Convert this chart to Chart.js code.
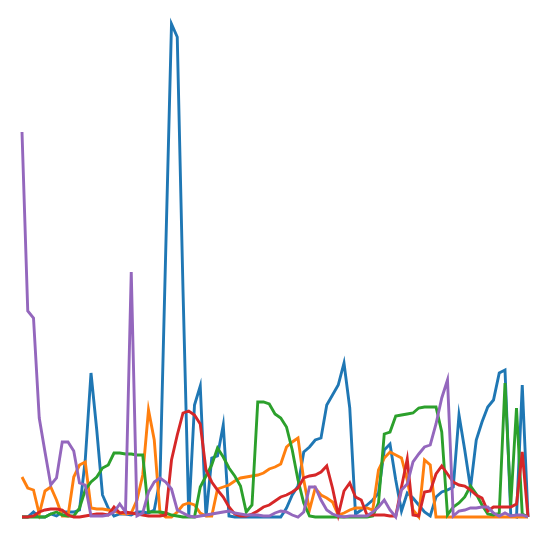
<!DOCTYPE html>
<html>
<head>
  <meta charset="utf-8">
  <script src="https://cdn.jsdelivr.net/npm/chart.js"></script>
  <style>
    html, body { margin: 0; padding: 0; background: white; }
    #wrap { width: 553px; height: 539px; }
  </style>
</head>
<body>
  <div id="wrap"><canvas id="chart" width="553" height="539"></canvas></div>
  <script>
    // 89 samples, no axes shown in the original
    const steps = Array.from({ length: 89 }, (_, i) => i);

    const blue = [1,1,6,1,1,4,2,6,6,6,8,58,145,88,23,10,2,4,4,3,6,6,5,8,38,268,494,481,228,2,
      113,132,1,60,62,93,2,1,1,1,1,1,1,1,1,1,10,23,32,66,71,78,80,113,123,133,155,110,4,8,
      13,18,25,68,74,38,7,25,20,13,6,2,21,26,28,31,103,68,30,78,96,111,118,145,148,3,1,133,1];
    const orange = [41,30,28,4,27,31,18,2,2,41,53,56,10,9,9,8,7,5,4,5,18,43,108,78,5,1,1,6,13,15,
      13,5,2,2,29,31,33,37,40,41,42,43,45,49,51,54,71,76,80,38,8,30,23,20,16,3,5,8,10,10,
      10,8,48,60,66,63,60,38,8,1,58,53,1,1,1,1,1,1,1,1,1,1,1,1,1,1,1,1,1];
    const green = [1,1,1,1,1,4,6,3,2,2,10,28,36,41,50,53,65,65,64,64,63,63,6,6,6,5,3,2,1,1,
      1,31,42,53,70,61,50,42,32,6,13,116,116,114,104,100,91,68,38,15,2,1,1,1,1,1,1,1,1,1,
      1,2,15,84,86,102,103,104,105,110,111,111,111,86,3,11,15,21,32,24,13,4,3,5,135,13,110,4,1];
    const red = [1,1,2,6,8,9,9,8,3,1,1,2,3,4,4,3,11,5,6,5,4,3,2,2,2,3,58,83,105,107,
      103,94,48,36,28,21,11,4,2,2,4,7,11,13,17,21,23,26,30,40,42,43,46,52,30,3,27,35,21,18,
      3,3,3,3,2,2,31,59,3,2,26,27,44,52,44,36,33,32,28,23,20,7,11,11,11,11,14,66,1];
    const purple = [386,207,200,100,66,33,40,76,76,67,35,33,2,2,2,3,6,14,6,246,2,5,26,36,40,36,29,8,5,2,
      1,2,3,4,5,6,7,5,4,3,3,3,2,2,5,7,6,3,1,6,31,31,18,8,4,2,1,2,2,2,
      2,6,11,18,8,1,28,34,56,64,71,73,94,120,138,2,7,8,10,10,11,11,5,2,5,2,3,3,1];

    const seriesNames = ["blue", "orange", "green", "red", "purple"];
    const seriesData = [blue, orange, green, red, purple];
    const seriesColors = ["#1f77b4", "#ff7f0e", "#2ca02c", "#d62728", "#9467bd"];

    const datasets = seriesData.map((data, i) => ({
      label: seriesNames[i],
      data,
      borderColor: seriesColors[i],
      backgroundColor: seriesColors[i],
      borderWidth: 2.9,
      pointRadius: 0,
      tension: 0,
      fill: false,
      clip: false,
      order: seriesData.length - i
    }));

    new Chart(document.getElementById('chart').getContext('2d'), {
      type: 'line',
      data: { labels: steps, datasets },
      options: {
        responsive: false,
        animation: false,
        layout: { padding: { left: 22, right: 25, top: 24, bottom: 21 } },
        plugins: { legend: { display: false }, tooltip: { enabled: false } },
        scales: {
          x: { display: false, offset: false },
          y: { display: false, min: 0, max: 494 }
        }
      }
    });
  </script>
</body>
</html>
